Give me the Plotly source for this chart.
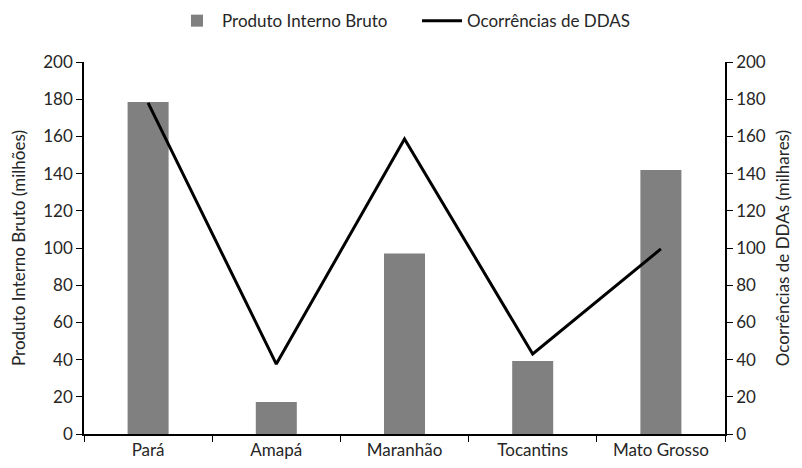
import plotly.graph_objects as go
from plotly.subplots import make_subplots

categories = ["Pará", "Amapá", "Maranhão", "Tocantins", "Mato Grosso"]
pib_values = [178.5, 17.2, 97, 39.2, 142]
ddas_values = [178, 37.6, 158.6, 43, 99.5]
tick_vals = [0, 20, 40, 60, 80, 100, 120, 140, 160, 180, 200]

font_family = "Lato, 'Open Sans', sans-serif"
txt = "#262626"

fig = make_subplots(specs=[[{"secondary_y": True}]])
fig.add_trace(go.Bar(x=categories, y=pib_values, name="Produto Interno Bruto",
                     marker=dict(color="#808080", line=dict(width=0))), secondary_y=False)
fig.add_trace(go.Scatter(x=categories, y=ddas_values, name="Ocorrências de DDAS",
                         mode="lines", line=dict(color="black", width=3)), secondary_y=True)

axis_common = dict(range=[0, 200], tickvals=tick_vals, ticks="outside", ticklen=6,
                   tickcolor="black", showline=True, linecolor="black", linewidth=1.5,
                   showgrid=False, zeroline=False, automargin=False,
                   tickfont=dict(family=font_family, size=17, color=txt))

fig.update_yaxes(title=dict(text="Produto Interno Bruto (milhões)",
                            font=dict(family=font_family, size=17, color=txt), standoff=13),
                 secondary_y=False, **axis_common)
fig.update_yaxes(title=dict(text="Ocorrências de DDAs (milhares)",
                            font=dict(family=font_family, size=17, color=txt), standoff=12),
                 secondary_y=True, **axis_common)
fig.update_xaxes(type="category", tickson="boundaries", ticks="outside", ticklen=6,
                 tickcolor="black", showline=True, linecolor="black", linewidth=1.5,
                 showgrid=False, automargin=False, domain=[0, 1],
                 tickfont=dict(family=font_family, size=17, color=txt))

fig.update_layout(
    width=802, height=468,
    margin=dict(l=76, r=85, t=54, b=42),
    plot_bgcolor="white", paper_bgcolor="white",
    bargap=0.68,
    showlegend=True,
    legend=dict(orientation="h", x=0.51, xanchor="center", xref="container",
                y=0.972, yanchor="middle", yref="container",
                itemwidth=40, entrywidth=190,
                font=dict(family=font_family, size=17, color=txt)),
)

fig.write_html("out.html")
